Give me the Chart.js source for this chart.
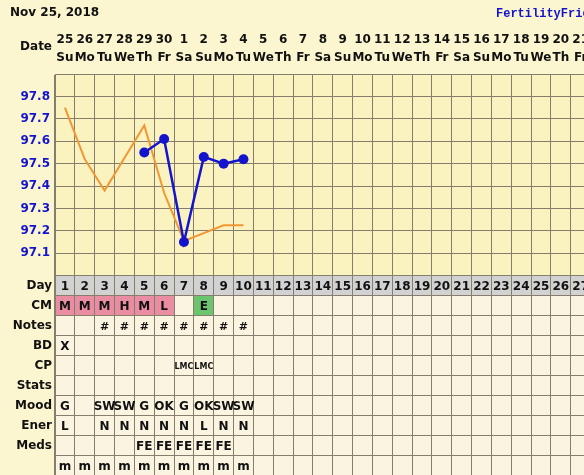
<!DOCTYPE html>
<html>
<head>
<meta charset="utf-8">
<script src="https://cdn.jsdelivr.net/npm/chart.js@4"></script>
<style>
  html, body { margin: 0; padding: 0; background: #FBF6CF; overflow: hidden; }
  #wrap { width: 584px; height: 475px; overflow: hidden; }
</style>
</head>
<body>
<div id="wrap"><canvas id="bbt" width="616" height="488"></canvas></div>
<script>
// --- chart data ---
const chartTitle = "Nov 25, 2018";
const brand = "FertilityFriend.com";
const cycleDays = [1, 2, 3, 4, 5, 6, 7, 8, 9, 10, 11, 12, 13, 14, 15, 16, 17, 18, 19, 20, 21, 22, 23, 24, 25, 26, 27, 28];
const dateNums = [25, 26, 27, 28, 29, 30, 1, 2, 3, 4, 5, 6, 7, 8, 9, 10, 11, 12, 13, 14, 15, 16, 17, 18, 19, 20, 21, 22];
const weekDays = ["Su", "Mo", "Tu", "We", "Th", "Fr", "Sa", "Su", "Mo", "Tu", "We", "Th", "Fr", "Sa",
                  "Su", "Mo", "Tu", "We", "Th", "Fr", "Sa", "Su", "Mo", "Tu", "We", "Th", "Fr", "Sa"];

// temperatures (blue) and the orange reference line
const temps = [null, null, null, null, 97.55, 97.61, 97.15, 97.53, 97.50, 97.52];
const orangeLine = [97.75, 97.52, 97.38, 97.525, 97.67, 97.37, 97.155, 97.19, 97.225, 97.225];
const tempTicks = ["97.1", "97.2", "97.3", "97.4", "97.5", "97.6", "97.7", "97.8"];

// table rows under the chart
const rowLabels = ["Day", "CM", "Notes", "BD", "CP", "Stats", "Mood", "Ener", "Meds", ""];
const cmRow    = ["M", "M", "M", "H", "M", "L", "", "E"];
const notesRow = ["", "", "#", "#", "#", "#", "#", "#", "#", "#"];
const bdRow    = ["X"];
const cpRow    = ["", "", "", "", "", "", "LMC", "LMC"];
const statsRow = [];
const moodRow  = ["G", "", "SW", "SW", "G", "OK", "G", "OK", "SW", "SW"];
const enerRow  = ["L", "", "N", "N", "N", "N", "N", "L", "N", "N"];
const medsRow  = ["", "", "", "", "FE", "FE", "FE", "FE", "FE"];
const lastRow  = ["m", "m", "m", "m", "m", "m", "m", "m", "m", "m"];

// --- styles ---
const FONT = '"DejaVu Sans", sans-serif';
const PAGE_BG = "#FBF6CF";
const CHART_BG = "#FAF3BF";
const TABLE_BG = "#FBF4E1";
const DAY_BG = "#D2D2D2";
const GRID = "#857e6c";
const BLUE = "#1414CC";
const ORANGE = "#F29633";
const cmColor = { M: "#EB8DA2", H: "#EB8DA2", L: "#EB8DA2", E: "#6DC46F" };

Chart.defaults.font.family = FONT;

const tableRows = [cycleDays.map(String), cmRow, notesRow, bdRow, cpRow, statsRow, moodRow, enerRow, medsRow, lastRow];

function cellGeom(chart) {
  const x = chart.scales.x, r = chart.scales.rows;
  return {
    x, r,
    halfW: (x.getPixelForValue(1) - x.getPixelForValue(0)) / 2,
    halfH: Math.abs(r.getPixelForValue(1) - r.getPixelForValue(0)) / 2
  };
}

const tablePlugin = {
  id: "ffTable",
  beforeDraw(chart) {
    const { ctx, chartArea, scales } = chart;
    const t = scales.y;
    const g = cellGeom(chart);
    ctx.save();
    ctx.fillStyle = PAGE_BG;
    ctx.fillRect(0, 0, chart.width, chart.height);
    ctx.fillStyle = CHART_BG;
    ctx.fillRect(chartArea.left, t.top, chartArea.width, t.bottom - t.top);
    ctx.fillStyle = TABLE_BG;
    ctx.fillRect(chartArea.left, g.r.top, chartArea.width, g.r.bottom - g.r.top);

    // Day row
    const dy = g.r.getPixelForValue(0);
    ctx.fillStyle = DAY_BG;
    ctx.fillRect(chartArea.left, dy - g.halfH, chartArea.width, g.halfH * 2);

    // CM coloured cells
    const cy = g.r.getPixelForValue(1);
    cmRow.forEach((v, i) => {
      if (!cmColor[v]) return;
      const cx = g.x.getPixelForValue(i);
      ctx.fillStyle = cmColor[v];
      ctx.fillRect(cx - g.halfW, cy - g.halfH, g.halfW * 2, g.halfH * 2);
    });
    ctx.restore();
  },
  afterDraw(chart) {
    const { ctx } = chart;
    const g = cellGeom(chart);
    ctx.save();
    ctx.textAlign = "center";
    ctx.textBaseline = "middle";
    ctx.fillStyle = "#111";
    tableRows.forEach((row, ri) => {
      const y = g.r.getPixelForValue(ri);
      ctx.font = (ri === 4 ? "bold 8px " : ri === 2 ? "bold 11px " : "bold 12px ") + FONT;
      row.forEach((txt, ci) => {
        if (!txt) return;
        ctx.fillText(txt, g.x.getPixelForValue(ci), y + 1);
      });
    });

    // header texts
    ctx.textAlign = "left";
    ctx.font = "bold 12px " + FONT;
    ctx.fillText(chartTitle, 10, 13);
    ctx.textAlign = "right";
    ctx.fillText("Date", 52, 47);
    ctx.textAlign = "left";
    ctx.fillStyle = BLUE;
    ctx.font = "bold 12px 'Liberation Mono', monospace";
    ctx.fillText(brand, 496, 14);
    ctx.restore();
  }
};

const ctx = document.getElementById("bbt").getContext("2d");

new Chart(ctx, {
  type: "line",
  data: {
    labels: dateNums.map((d, i) => [String(d), weekDays[i]]),
    datasets: [{
      label: "Temp",
      data: temps,
      borderColor: BLUE,
      backgroundColor: BLUE,
      borderWidth: 2.5,
      pointRadius: 5,
      pointBorderWidth: 0,
      pointBackgroundColor: BLUE,
      yAxisID: "y"
    }, {
      label: "Coverline",
      data: orangeLine,
      borderColor: ORANGE,
      borderWidth: 2,
      pointRadius: 0,
      yAxisID: "y"
    }]
  },
  options: {
    responsive: false,
    animation: false,
    layout: { padding: { top: 0, right: 1, bottom: 0, left: 0 } },
    plugins: {
      legend: { display: false },
      tooltip: { enabled: false }
    },
    scales: {
      x: {
        position: "top",
        offset: true,
        grid: { offset: true, color: GRID, drawTicks: false },
        border: { color: GRID },
        ticks: {
          autoSkip: false,
          maxRotation: 0,
          padding: 7,
          color: "#111",
          font: { size: 12, weight: "bold", lineHeight: "18px" }
        },
        afterFit: (s) => { s.height = 74; }
      },
      y: {
        type: "linear",
        position: "left",
        stack: "ff",
        stackWeight: 201.6,
        weight: 1,
        min: 97.0,
        max: 97.9,
        grid: { color: GRID, drawTicks: false },
        border: { color: GRID },
        ticks: {
          autoSkip: false,
          stepSize: 0.1,
          padding: 5,
          color: BLUE,
          font: { size: 12, weight: "bold" },
          callback: (v) => tempTicks.includes(v.toFixed(1)) ? v.toFixed(1) : ""
        },
        afterFit: (s) => { s.width = 55; }
      },
      rows: {
        type: "category",
        position: "left",
        stack: "ff",
        stackWeight: 200,
        weight: 0,
        labels: rowLabels,
        offset: true,
        grid: { offset: true, color: GRID, drawTicks: false },
        border: { color: GRID },
        ticks: {
          autoSkip: false,
          padding: 3,
          color: "#111",
          font: { size: 12, weight: "bold" }
        },
        afterFit: (s) => { s.width = 55; }
      }
    }
  },
  plugins: [tablePlugin]
});
</script>
</body>
</html>
